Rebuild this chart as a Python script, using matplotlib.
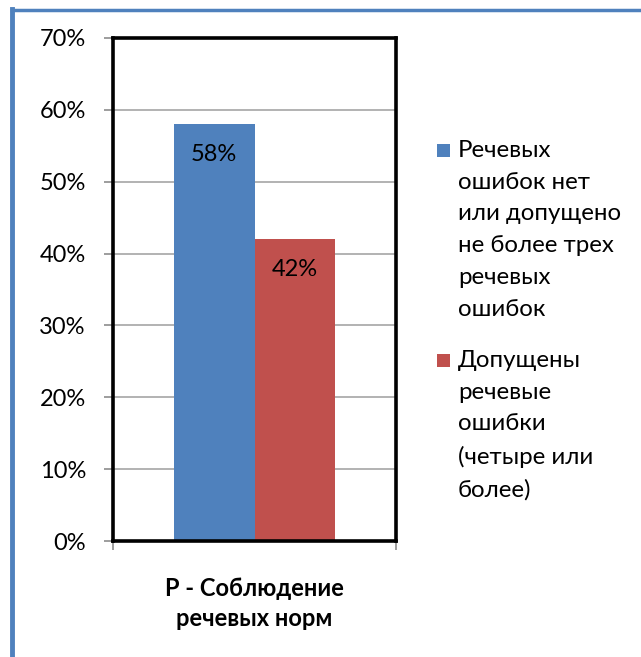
import matplotlib
matplotlib.use("Agg")
import matplotlib.pyplot as plt
from matplotlib.patches import Rectangle
from matplotlib.lines import Line2D

plt.rcParams['font.family'] = ['Lato', 'DejaVu Sans']

# data
category = "Р - Соблюдение\nречевых норм"
series_names = [
    "Речевых\nошибок нет\nили допущено\nне более трех\nречевых\nошибок",
    "Допущены\nречевые\nошибки\n(четыре или\nболее)",
]
values = [58, 42]
colors = ['#4f81bd', '#c0504d']
yticks = [0, 10, 20, 30, 40, 50, 60, 70]

W, H = 641, 657
fig = plt.figure(figsize=(W / 100, H / 100), dpi=100)
ax = fig.add_axes([113 / W, 1 - 541 / H, 283 / W, 503 / H])

bar_w = 0.286
offsets = [-bar_w / 2, bar_w / 2]
for v, c, off in zip(values, colors, offsets):
    ax.bar(off, v, width=bar_w, color=c, zorder=3)
    ax.annotate(f"{v}%", xy=(off, v), xytext=(0, -22), textcoords='offset points',
                ha='center', va='center', fontsize=17, color='black', zorder=4)

ax.set_xlim(-0.5, 0.5)
ax.set_ylim(0, 70)
ax.set_yticks(yticks)
ax.set_yticklabels([f"{t}%" for t in yticks], fontsize=17)
ax.yaxis.grid(True, color='#a6a6a6', linewidth=1.2, zorder=0)
ax.tick_params(axis='y', direction='out', length=6.5, color='#8c8c8c', width=1.2, pad=13)

ax.set_xticks([-0.5, 0.5])
ax.set_xticklabels(['', ''])
ax.tick_params(axis='x', which='major', direction='out', length=6.5, color='#8c8c8c', width=1.2)
ax.set_xticks([0], minor=True)
ax.set_xticklabels([category], minor=True, fontsize=17, fontweight='bold', linespacing=1.35)
ax.tick_params(axis='x', which='minor', length=0, pad=26)

for s in ax.spines.values():
    s.set_color('black')
    s.set_linewidth(2.6)
    s.set_zorder(5)

# legend, drawn by hand so the swatch sits beside the first line
entry_tops = [140, 350]
for name, c, top in zip(series_names, colors, entry_tops):
    fig.add_artist(Rectangle((437 / W, 1 - (top + 17) / H), 13 / W, 13 / H,
                             transform=fig.transFigure, facecolor=c, edgecolor='none'))
    fig.text(458 / W, 1 - top / H, name, ha='left', va='top',
             fontsize=17.3, linespacing=1.63)

# blue frame of the chart area (left and top sides visible)
fig.add_artist(Line2D([11.5 / W, 11.5 / W], [0, 1 - 9 / H],
                      transform=fig.transFigure, color='#4f81bd', linewidth=3.5))
fig.add_artist(Line2D([11.5 / W, 1], [1 - 9.5 / H, 1 - 9.5 / H],
                      transform=fig.transFigure, color='#4f81bd', linewidth=2.5))

fig.savefig('out.png', dpi=100)
